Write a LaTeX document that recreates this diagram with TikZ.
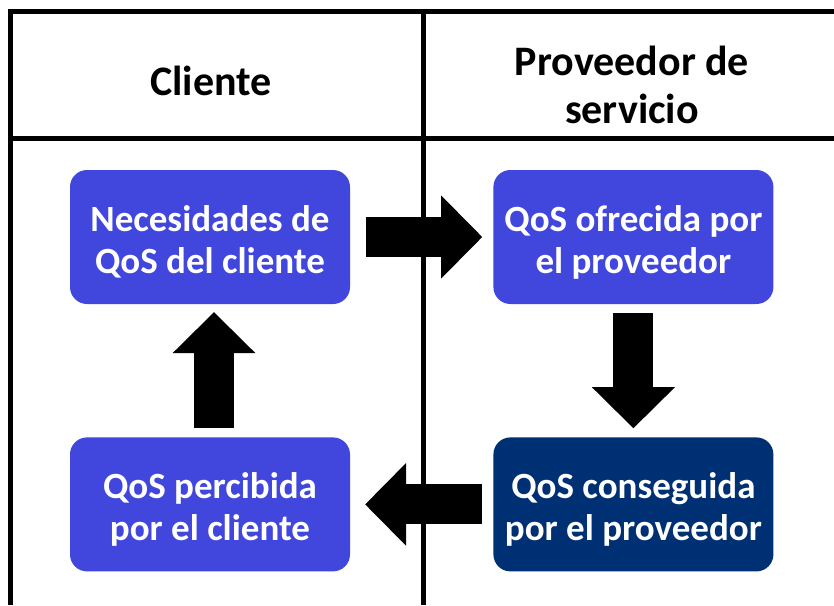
\documentclass[tikz,border=0pt]{standalone}
\usepackage{fontspec}
\setmainfont{Carlito}
\usepackage{xcolor}
\usetikzlibrary{arrows.meta, positioning}
\definecolor{qosblue}{RGB}{65,71,221}
\definecolor{qosnavy}{RGB}{0,48,116}
\tikzset{
  qosbox/.style={rectangle, fill=qosblue, text=white, minimum width=280pt, minimum height=134pt, align=center, rounded corners=17pt, inner sep=0pt, text height=72pt, text depth=0pt, font=\fontsize{37}{42}\selectfont\bfseries},
  headtext/.style={align=center, inner sep=0pt, font=\fontsize{42}{48}\selectfont\bfseries},
  gridline/.style={line width=5pt},
  blockarr/.style={line width=40pt, -{Triangle[length=41pt, width=83pt, line width=0pt]}},
}
\begin{document}
\begin{tikzpicture}[x=1pt, y=-1pt]
  \useasboundingbox (0,0) rectangle (834,605);
  % Table
  \draw[gridline] (834,11) -- (10,11) -- (10,605);
  \draw[gridline] (10,138) -- (834,138);
  \draw[gridline] (423,11) -- (423,605);

  % Column heads
  \node[headtext] (hcli) at (211,81) {Cliente};
  \node[headtext] (hprov) at (632,85) {Proveedor de\\servicio};

  % QoS boxes
  \node[qosbox] (nec) at (210,237) {Necesidades de\\QoS del cliente};
  \node[qosbox, right=143pt of nec] (ofr) {QoS ofrecida por\\el proveedor};
  \node[qosbox, fill=qosnavy, below=133pt of ofr] (con) {QoS conseguida\\por el proveedor};
  \node[qosbox, below=133pt of nec] (per) {QoS percibida\\por el cliente};

  % Arrows
  \draw[blockarr, shorten <=16pt, shorten >=11pt] (nec) -- (ofr);
  \draw[blockarr, shorten <=9pt, shorten >=9pt] (ofr) -- (con);
  \draw[blockarr, shorten <=11pt, shorten >=15pt] (con) -- (per);
  \draw[blockarr, shorten <=9pt, shorten >=8pt] ([xshift=4pt]per.north) -- ([xshift=4pt]nec.south);
\end{tikzpicture}
\end{document}
